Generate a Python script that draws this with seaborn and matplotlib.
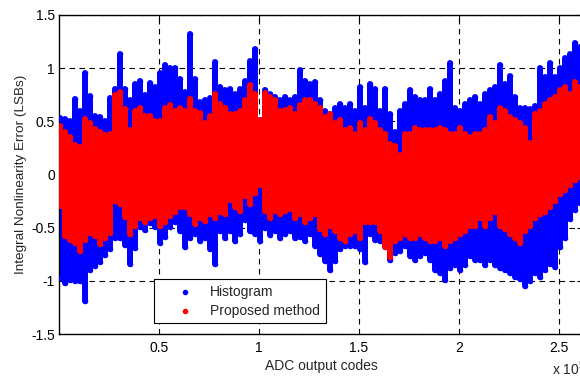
import numpy as np
import pandas as pd
import matplotlib
matplotlib.use("Agg")
import matplotlib.pyplot as plt
import seaborn as sns

# ADC output codes (sample positions along the code axis)
codes = [500, 3000, 5500, 8000, 10500, 13000, 15500, 18000, 20500, 23000,
         25500, 28000, 30500, 33000, 35500, 38000, 40500, 43000, 45500, 48000,
         50500, 53000, 55500, 58000, 60500, 63000, 65500, 68000, 70500, 73000,
         75500, 78000, 80500, 83000, 85500, 88000, 90500, 93000, 95500, 98000,
         100500, 103000, 105500, 108000, 110500, 113000, 115500, 118000, 120500, 123000,
         125500, 128000, 130500, 133000, 135500, 138000, 140500, 143000, 145500, 148000,
         150500, 153000, 155500, 158000, 160500, 163000, 165500, 168000, 170500, 173000,
         175500, 178000, 180500, 183000, 185500, 188000, 190500, 193000, 195500, 198000,
         200500, 203000, 205500, 208000, 210500, 213000, 215500, 218000, 220500, 223000,
         225500, 228000, 230500, 233000, 235500, 238000, 240500, 243000, 245500, 248000,
         250500, 253000, 255500, 258000, 260500]

# Histogram method: upper / lower INL envelope (LSBs)
hist_upper = [0.53, 0.52, 0.50, 0.71, 0.60, 0.95, 0.74, 0.55, 0.54, 0.50,
              0.72, 0.80, 1.13, 0.80, 0.70, 0.85, 0.88, 0.75, 0.86, 0.82,
              0.95, 1.03, 1.00, 1.00, 0.90, 0.78, 1.32, 0.90, 0.68, 0.70,
              0.72, 1.06, 0.82, 0.79, 0.80, 0.76, 0.80, 0.88, 1.07, 1.18,
              0.51, 0.79, 0.76, 0.73, 0.70, 0.73, 0.70, 0.73, 0.98, 0.88,
              0.85, 0.87, 0.70, 0.60, 0.57, 0.63, 0.66, 0.63, 0.66, 0.60,
              0.82, 0.63, 0.85, 0.80, 0.60, 0.80, 0.57, 0.40, 0.60, 0.66,
              0.79, 0.73, 0.70, 0.70, 0.80, 0.70, 0.76, 0.88, 1.05, 0.63,
              0.60, 0.66, 0.70, 0.73, 0.66, 0.76, 0.79, 0.82, 1.03, 0.85,
              0.93, 0.73, 0.63, 0.63, 0.62, 0.64, 1.00, 0.92, 1.05, 0.92,
              1.00, 1.10, 1.13, 1.24, 1.20]
hist_lower = [-0.97, -1.02, -0.99, -1.00, -1.00, -1.19, -0.90, -0.86, -0.82, -0.76,
              -0.70, -0.60, -0.60, -0.66, -0.84, -0.69, -0.49, -0.52, -0.46, -0.49,
              -0.64, -0.59, -0.49, -0.45, -0.53, -0.68, -0.60, -0.56, -0.63, -0.60,
              -0.70, -0.84, -0.53, -0.60, -0.53, -0.63, -0.56, -0.43, -0.53, -0.56,
              -0.63, -0.50, -0.57, -0.53, -0.60, -0.56, -0.53, -0.60, -0.59, -0.63,
              -0.56, -0.67, -0.75, -0.81, -0.90, -0.81, -0.70, -0.67, -0.67, -0.67,
              -0.70, -0.82, -0.56, -0.62, -0.63, -0.67, -0.80, -0.74, -0.72, -0.67,
              -0.77, -0.80, -0.77, -0.74, -0.80, -0.90, -0.93, -0.99, -0.88, -0.85,
              -0.90, -0.85, -0.77, -0.80, -0.80, -0.85, -0.80, -0.85, -0.88, -0.90,
              -0.93, -0.96, -0.98, -1.05, -1.00, -0.93, -0.96, -0.90, -0.84, -0.87,
              -0.68, -0.60, -0.42, -0.33, -0.27]

# Proposed method: upper / lower INL envelope (LSBs)
prop_upper = [0.46, 0.40, 0.35, 0.28, 0.26, 0.52, 0.48, 0.43, 0.40, 0.37,
              0.38, 0.75, 0.78, 0.62, 0.42, 0.60, 0.63, 0.55, 0.55, 0.50,
              0.50, 0.63, 0.65, 0.60, 0.63, 0.60, 0.71, 0.60, 0.58, 0.48,
              0.55, 0.76, 0.66, 0.63, 0.57, 0.57, 0.60, 0.70, 0.84, 0.76,
              0.51, 0.77, 0.73, 0.70, 0.60, 0.61, 0.63, 0.57, 0.65, 0.70,
              0.70, 0.66, 0.63, 0.54, 0.57, 0.48, 0.51, 0.42, 0.44, 0.38,
              0.48, 0.42, 0.52, 0.48, 0.42, 0.38, 0.29, 0.27, 0.18, 0.38,
              0.38, 0.44, 0.42, 0.42, 0.42, 0.42, 0.44, 0.42, 0.38, 0.38,
              0.44, 0.38, 0.35, 0.38, 0.38, 0.42, 0.54, 0.48, 0.63, 0.60,
              0.54, 0.51, 0.48, 0.44, 0.30, 0.57, 0.60, 0.66, 0.70, 0.73,
              0.79, 0.82, 0.76, 0.87, 0.82]
prop_lower = [-0.30, -0.58, -0.62, -0.64, -0.72, -0.62, -0.55, -0.58, -0.65, -0.60,
              -0.55, -0.25, -0.28, -0.40, -0.56, -0.48, -0.41, -0.45, -0.41, -0.39,
              -0.48, -0.45, -0.39, -0.35, -0.31, -0.31, -0.37, -0.47, -0.41, -0.44,
              -0.37, -0.41, -0.35, -0.37, -0.24, -0.31, -0.34, -0.20, -0.28, -0.17,
              -0.10, -0.34, -0.41, -0.34, -0.37, -0.34, -0.32, -0.41, -0.37, -0.45,
              -0.41, -0.37, -0.51, -0.56, -0.48, -0.53, -0.60, -0.63, -0.56, -0.53,
              -0.60, -0.45, -0.45, -0.45, -0.53, -0.68, -0.78, -0.63, -0.60, -0.56,
              -0.60, -0.60, -0.56, -0.60, -0.63, -0.63, -0.60, -0.67, -0.63, -0.60,
              -0.56, -0.53, -0.48, -0.48, -0.41, -0.48, -0.41, -0.35, -0.48, -0.51,
              -0.56, -0.60, -0.64, -0.53, -0.48, -0.41, -0.37, -0.35, -0.31, -0.25,
              -0.18, -0.15, -0.10, -0.05, -0.02]

series_names = ["Histogram", "Proposed method"]
series_colors = ["#0000FF", "#FF0000"]

x_ticks = [50000, 100000, 150000, 200000, 250000]
x_ticklabels = ["0.5", "1", "1.5", "2", "2.5"]
y_ticks = [-1.5, -1, -0.5, 0, 0.5, 1, 1.5]
y_ticklabels = ["-1.5", "-1", "-0.5", "0", "0.5", "1", "1.5"]

FS = 10

sns.set_theme(style="white")
plt.rcParams["font.family"] = ["Liberation Sans", "DejaVu Sans"]
plt.rcParams["mathtext.fontset"] = "custom"
plt.rcParams["mathtext.rm"] = "Liberation Sans"
plt.rcParams["mathtext.it"] = "Liberation Sans"

fig = plt.figure(figsize=(5.8, 3.76), dpi=100)
fig.patch.set_facecolor("white")
ax = fig.add_axes([59 / 580, 1 - 334 / 376, 524 / 580, 319 / 376])
ax.set_facecolor("white")

x = np.array(codes, dtype=float)
bands = [(hist_lower, hist_upper), (prop_lower, prop_upper)]

rows = []
for name, (lo, up) in zip(series_names, bands):
    for xi, a, b in zip(codes, lo, up):
        rows.append({"code": xi, "inl": b, "method": name})
        rows.append({"code": xi, "inl": a, "method": name})
df = pd.DataFrame(rows)

# column bodies (dense clouds of points)
for (lo, up), col, z in zip(bands, series_colors, [2, 4]):
    ax.vlines(x, lo, up, colors=col, linewidth=4.3, capstyle="round", zorder=z)

# envelope dots via seaborn
for name, col, z in zip(series_names, series_colors, [3, 5]):
    sns.scatterplot(data=df[df["method"] == name], x="code", y="inl",
                    color=col, s=16, linewidth=0, edgecolor=col,
                    ax=ax, zorder=z, label=name)

ax.set_xlim(0, 262144)
ax.set_ylim(-1.5, 1.5)
ax.set_xticks(x_ticks)
ax.set_xticklabels(x_ticklabels)
ax.set_yticks(y_ticks)
ax.set_yticklabels(y_ticklabels)
ax.tick_params(direction="in", length=4, width=0.8, top=True, right=True,
               labelsize=FS, colors="black")
ax.tick_params(axis="x", pad=5)
ax.tick_params(axis="y", pad=3)
ax.grid(True, color="black", linestyle=(0, (5, 4)), linewidth=0.8)
ax.set_axisbelow(True)
for sp in ax.spines.values():
    sp.set_color("black")
    sp.set_linewidth(1.0)

ax.set_xlabel("ADC output codes", fontsize=FS, labelpad=3)
ax.set_ylabel("Integral Nonlinearity Error (LSBs)", fontsize=9.7, labelpad=3)

fig.text(552 / 580, 1 - 369 / 376, "x 10$^{5}$", fontsize=FS,
         ha="left", va="center")

leg = ax.legend(loc="upper left", bbox_to_anchor=(0.181, 0.172),
                frameon=True, fancybox=False, edgecolor="black",
                framealpha=1.0, fontsize=FS, markerscale=1.0,
                handletextpad=0.0, borderpad=0.4, labelspacing=0.36,
                handlelength=3.65, borderaxespad=0)
leg.get_frame().set_linewidth(0.8)
leg.set_zorder(10)

fig.savefig("out.png", dpi=100, facecolor="white")
